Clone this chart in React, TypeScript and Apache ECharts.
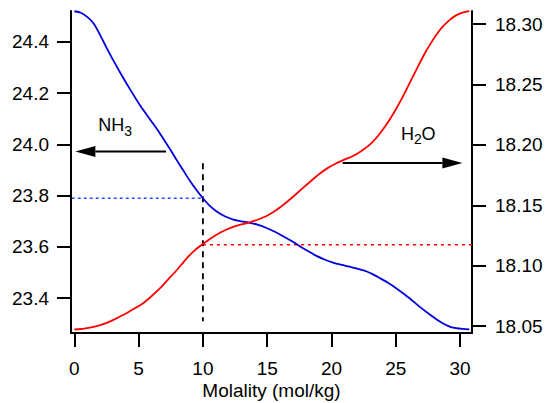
import React, { useEffect, useRef } from "react";
import * as echarts from "echarts";

const FONT = "'Liberation Sans', Arial, Helvetica, sans-serif";

// x ticks and y ticks
const xTicks = [0, 5, 10, 15, 20, 25, 30];
const leftTicks = [23.4, 23.6, 23.8, 24.0, 24.2, 24.4];
const rightTicks = [18.05, 18.1, 18.15, 18.2, 18.25, 18.3];

// NH3 curve (left axis)
const nh3Curve: [number, number][] = [
  [0, 24.52], [0.5, 24.514], [1.0, 24.498], [1.5, 24.472], [2.0, 24.428], [2.5, 24.378],
  [3.0, 24.331], [3.57, 24.28], [4.3, 24.218], [5.12, 24.152], [6.0, 24.09], [6.67, 24.042],
  [7.45, 23.981], [8.0, 23.936], [8.48, 23.898], [9.0, 23.857], [9.5, 23.822], [10.0, 23.79],
  [10.5, 23.762], [11.07, 23.738], [11.7, 23.72], [12.36, 23.707], [13.0, 23.7], [13.65, 23.694],
  [14.3, 23.686], [14.95, 23.674], [15.6, 23.659], [16.24, 23.642], [16.9, 23.623], [17.53, 23.603],
  [18.2, 23.583], [18.83, 23.565], [19.5, 23.55], [20.12, 23.539], [20.8, 23.53], [21.4, 23.523],
  [22.0, 23.515], [22.7, 23.505], [23.2, 23.494], [23.74, 23.479], [24.4, 23.46], [25.03, 23.439],
  [25.7, 23.414], [26.32, 23.389], [27.0, 23.361], [27.62, 23.337], [28.3, 23.313], [28.91, 23.295],
  [29.3, 23.287], [29.69, 23.283], [30.2, 23.28], [30.72, 23.278],
];

// H2O curve (right axis)
const h2oCurve: [number, number][] = [
  [0, 18.0473], [0.75, 18.048], [1.5, 18.0495], [2.2, 18.0515], [2.79, 18.054], [3.4, 18.0572],
  [4.09, 18.061], [4.7, 18.0648], [5.38, 18.0693], [6.0, 18.0748], [6.67, 18.0815], [7.3, 18.0888],
  [7.97, 18.0965], [8.74, 18.1062], [9.3, 18.1122], [9.91, 18.1174], [10.4, 18.1212], [10.81, 18.124],
  [11.33, 18.1273], [11.8, 18.1298], [12.36, 18.1322], [13.0, 18.1342], [13.65, 18.136], [14.3, 18.1383],
  [14.95, 18.1412], [15.6, 18.1453], [16.24, 18.1503], [16.76, 18.1548], [17.3, 18.1598], [17.79, 18.1645],
  [18.4, 18.1702], [19.08, 18.1762], [19.7, 18.1808], [20.38, 18.1848], [21.0, 18.1878], [21.67, 18.1908],
  [22.3, 18.1948], [22.96, 18.2], [23.6, 18.2072], [24.26, 18.2166], [24.9, 18.2275], [25.55, 18.24],
  [26.2, 18.2538], [26.84, 18.2672], [27.35, 18.2775], [27.87, 18.2865], [28.3, 18.2932], [28.65, 18.2978],
  [29.2, 18.3035], [29.69, 18.3072], [30.2, 18.3095], [30.72, 18.3107],
];

// reference lines
const nh3RefLine: [number, number][] = [[-0.2, 23.79], [10, 23.79]];
const h2oRefLine: [number, number][] = [[10, 18.1175], [30.93, 18.1175]];
const molalityLine: [number, number][] = [[10, 23.927], [10, 23.31]];

// arrows: [xStart, y, xEnd]
const nh3Arrow = [[7.14, 23.973, 0.08]];
const h2oArrow = [[20.87, 18.185, 30.18]];

// labels: [x, y]
const nh3LabelPos = [[1.85, 24.0755]];
const h2oLabelPos = [[25.4, 18.2093]];

const arrowRender = (params: any, api: any) => {
  const p1 = api.coord([api.value(0), api.value(1)]);
  const p2 = api.coord([api.value(2), api.value(1)]);
  const dir = Math.sign(p2[0] - p1[0]);
  const headLen = 20;
  const headW = 5.5;
  const bx = p2[0] - dir * headLen;
  return {
    type: "group",
    children: [
      { type: "line", shape: { x1: p1[0], y1: p1[1], x2: bx, y2: p2[1] }, style: { stroke: "#000", lineWidth: 2 } },
      {
        type: "polygon",
        shape: { points: [[p2[0], p2[1]], [bx, p2[1] - headW], [bx, p2[1] + headW]] },
        style: { fill: "#000" },
      },
    ],
  };
};

const makeLabelRender = (parts: { t: string; dx: number; dy: number; size: number }[]) =>
  (params: any, api: any) => {
    const p = api.coord([api.value(0), api.value(1)]);
    return {
      type: "group",
      children: parts.map((pt) => ({
        type: "text",
        x: p[0] + pt.dx,
        y: p[1] + pt.dy,
        style: {
          text: pt.t,
          fill: "#000",
          font: `${pt.size}px ${FONT}`,
          align: "left",
          verticalAlign: "middle",
        },
      })),
    };
  };

export default function App() {
  const ref = useRef<HTMLDivElement>(null);
  useEffect(() => {
    if (!ref.current) return;
    const chart = echarts.init(ref.current, null, { renderer: "svg" });
    const labelStyle = { color: "#000", fontSize: 19, fontFamily: FONT };
    const axisLine = { show: true, onZero: false, lineStyle: { color: "#000", width: 2 } };
    chart.setOption({
      animation: false,
      backgroundColor: "#fff",
      grid: { left: 71, right: 82, top: 11, bottom: 70, containLabel: false, outerBoundsMode: "none" },
      xAxis: {
        type: "value",
        min: -0.26,
        max: 30.93,
        axisLine,
        axisTick: { show: true, length: 14, lineStyle: { color: "#000", width: 2 }, customValues: xTicks },
        axisLabel: { ...labelStyle, margin: 26, customValues: xTicks, formatter: (v: number) => String(v) },
        splitLine: { show: false },
        name: "Molality (mol/kg)",
        nameLocation: "middle",
        nameGap: 48,
        nameMoveOverlap: false,
        nameTextStyle: { ...labelStyle },
      },
      yAxis: [
        {
          type: "value",
          position: "left",
          min: 23.264,
          max: 24.521,
          axisLine,
          axisTick: { show: true, length: 14, lineStyle: { color: "#000", width: 2 }, customValues: leftTicks },
          axisLabel: { ...labelStyle, margin: 22, customValues: leftTicks, formatter: (v: number) => v.toFixed(1) },
          splitLine: { show: false },
        },
        {
          type: "value",
          position: "right",
          min: 18.0444,
          max: 18.3108,
          axisLine,
          axisTick: { show: true, length: 14, lineStyle: { color: "#000", width: 2 }, customValues: rightTicks },
          axisLabel: { ...labelStyle, margin: 23, customValues: rightTicks, formatter: (v: number) => v.toFixed(2) },
          splitLine: { show: false },
        },
      ],
      series: [
        {
          type: "line", yAxisIndex: 0, data: nh3RefLine, symbol: "none",
          lineStyle: { color: "#2255ff", width: 1.5, type: [3, 3] },
        },
        {
          type: "line", yAxisIndex: 1, data: h2oRefLine, symbol: "none",
          lineStyle: { color: "#ff0000", width: 1.5, type: [3, 4] },
        },
        {
          type: "line", yAxisIndex: 0, data: molalityLine, symbol: "none",
          lineStyle: { color: "#000", width: 1.8, type: [6, 5] },
        },
        {
          type: "line", yAxisIndex: 0, data: nh3Curve, symbol: "none", smooth: 0.25,
          lineStyle: { color: "#0000dd", width: 1.8 },
        },
        {
          type: "line", yAxisIndex: 1, data: h2oCurve, symbol: "none", smooth: 0.25,
          lineStyle: { color: "#ff0000", width: 1.8 },
        },
        { type: "custom", yAxisIndex: 0, data: nh3Arrow, renderItem: arrowRender, silent: true },
        { type: "custom", yAxisIndex: 1, data: h2oArrow, renderItem: arrowRender, silent: true },
        {
          type: "custom", yAxisIndex: 0, data: nh3LabelPos, silent: true,
          renderItem: makeLabelRender([
            { t: "NH", dx: 0, dy: 0, size: 18 },
            { t: "3", dx: 26, dy: 5.5, size: 14 },
          ]),
        },
        {
          type: "custom", yAxisIndex: 1, data: h2oLabelPos, silent: true,
          renderItem: makeLabelRender([
            { t: "H", dx: 0, dy: 0, size: 18 },
            { t: "2", dx: 13, dy: 5.5, size: 14 },
            { t: "O", dx: 20.5, dy: 0, size: 18 },
          ]),
        },
      ],
    });
    return () => chart.dispose();
  }, []);
  return (
    <div
      ref={ref}
      style={{ position: "absolute", left: 0, top: 0, width: 554, height: 403 }}
    />
  );
}
